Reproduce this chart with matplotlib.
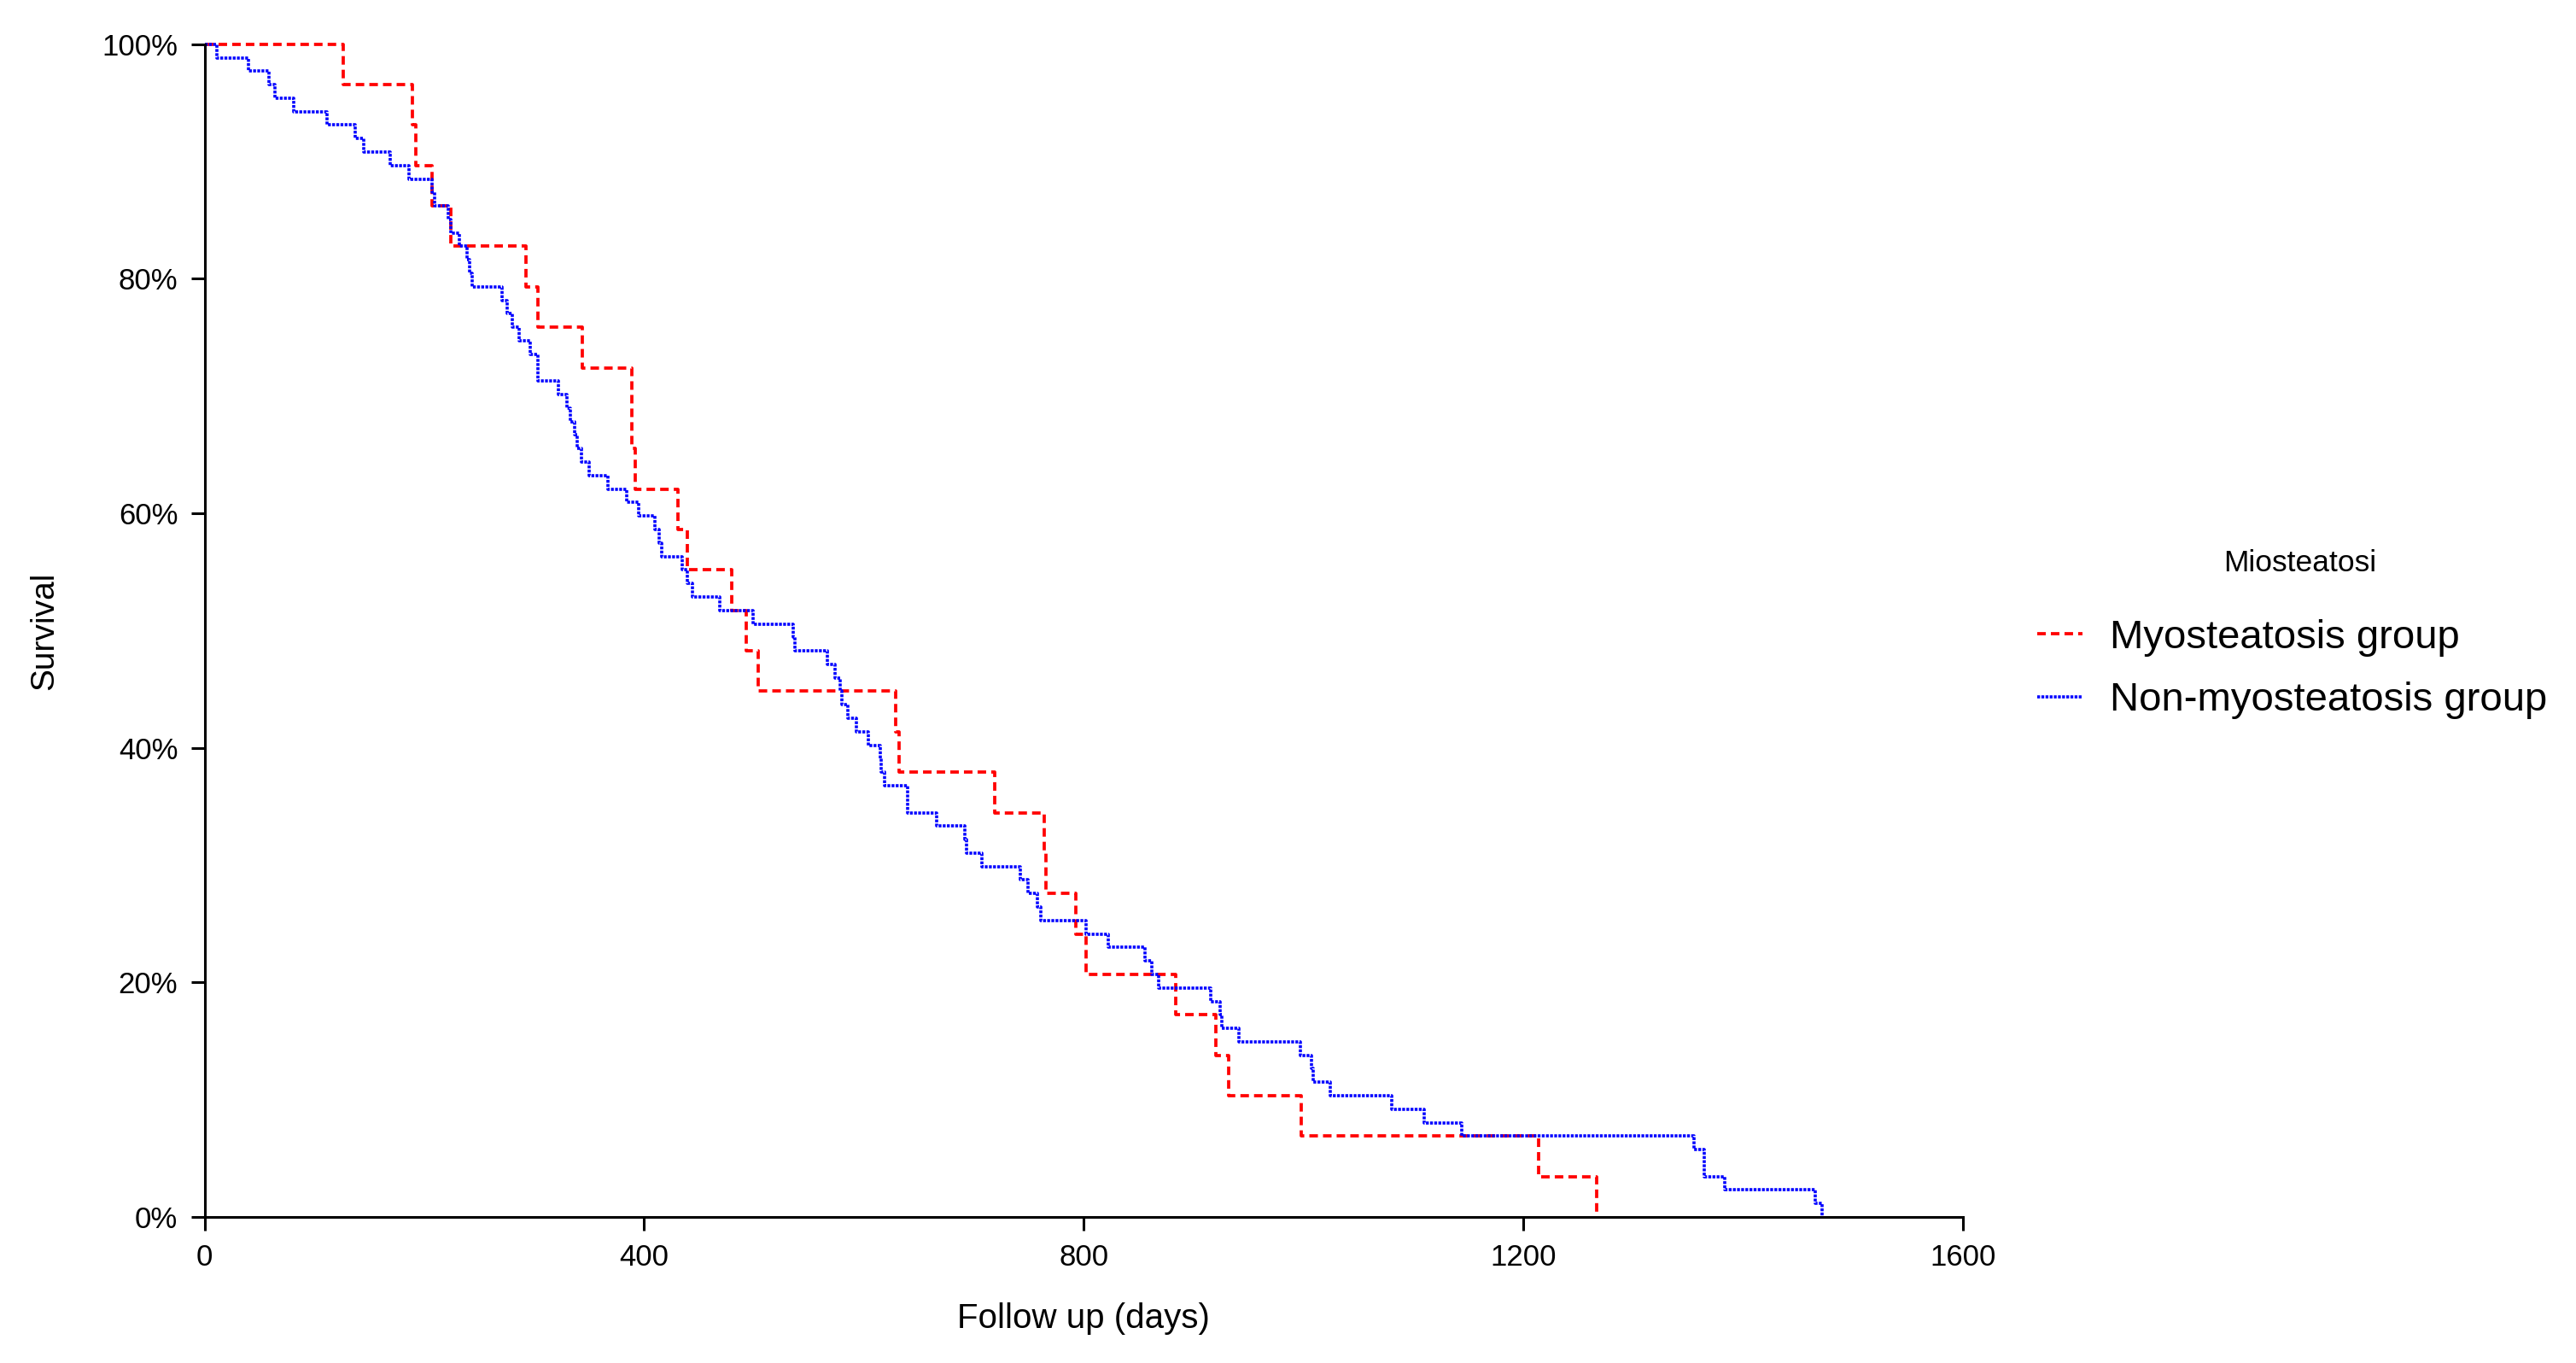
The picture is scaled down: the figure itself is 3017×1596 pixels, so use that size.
import matplotlib
matplotlib.use('Agg')
import matplotlib.pyplot as plt
from matplotlib.lines import Line2D

plt.rcParams['font.family'] = ['Liberation Sans', 'DejaVu Sans']
plt.rcParams['lines.scale_dashes'] = False

# Kaplan-Meier steps (days, survival %)
myo_days = [0, 126, 189.5, 192, 207, 224, 292.5, 303, 343.5, 389, 389, 392, 431, 439, 480, 493, 504,
            629, 632, 719, 764, 766, 793, 802, 884, 920, 932, 998, 1214, 1267]
myo_surv = [100, 96.55, 93.10, 89.66, 86.21, 82.76, 79.31, 75.86, 72.41, 68.97, 65.52, 62.07, 58.62,
            55.17, 51.72, 48.28, 44.83, 41.38, 37.93, 34.48, 31.03, 27.59, 24.14, 20.69, 17.24, 13.79,
            10.34, 6.90, 3.45, 0]

non_days = [0, 11, 40, 59, 64, 81, 111.5, 137, 145, 169,
            186, 207, 209, 222, 224, 232, 239, 241, 243.5, 271,
            275, 280, 286, 296, 303, 303, 322, 330, 333, 337,
            339, 343, 350, 367, 384, 395, 410, 414, 416, 435,
            439, 444, 469, 499, 536, 537, 567, 573.5, 578, 580,
            585, 593, 604, 615, 616, 618.5, 640, 640, 666, 692,
            693, 707, 742, 749, 758, 761, 802, 822, 856, 862,
            868, 915.5, 924, 926, 941, 997, 1007, 1009, 1024, 1080,
            1110, 1144, 1355, 1365, 1365, 1383, 1466, 1472]
non_surv = [100, 98.85, 97.70, 96.55, 95.40, 94.25, 93.10, 91.95, 90.80, 89.66,
            88.51, 87.36, 86.21, 85.06, 83.91, 82.76, 81.61, 80.46, 79.31, 78.16,
            77.01, 75.86, 74.71, 73.56, 72.41, 71.26, 70.11, 68.97, 67.82, 66.67,
            65.52, 64.37, 63.22, 62.07, 60.92, 59.77, 58.62, 57.47, 56.32, 55.17,
            54.02, 52.87, 51.72, 50.57, 49.43, 48.28, 47.13, 45.98, 44.83, 43.68,
            42.53, 41.38, 40.23, 39.08, 37.93, 36.78, 35.63, 34.48, 33.33, 32.18,
            31.03, 29.89, 28.74, 27.59, 26.44, 25.29, 24.14, 22.99, 21.84, 20.69,
            19.54, 18.39, 17.24, 16.09, 14.94, 13.79, 12.64, 11.49, 10.34, 9.20,
            8.05, 6.90, 5.75, 4.60, 3.45, 2.30, 1.15, 0]

x_ticks = [0, 400, 800, 1200, 1600]
y_ticks = [0, 20, 40, 60, 80, 100]
y_labels = ['0%', '20%', '40%', '60%', '80%', '100%']
groupes = ['Myosteatosis group', 'Non-myosteatosis group']

fig = plt.figure(figsize=(30.17, 15.96), dpi=100)
ax = fig.add_axes([0.0794, 0.1071, 0.6826, 0.8605])

red_style = dict(color='red', linewidth=2.7, dashes=(7.2, 4.3))
blue_style = dict(color='blue', linewidth=2.6, dashes=(2.4, 1.1))

ax.step(myo_days, myo_surv, where='post', clip_on=False, **red_style)
ax.step(non_days, non_surv, where='post', clip_on=False, **blue_style)

ax.set_xlim(0, 1600)
ax.set_ylim(0, 100)
ax.set_xticks(x_ticks)
ax.set_xticklabels([str(t) for t in x_ticks])
ax.set_yticks(y_ticks)
ax.set_yticklabels(y_labels)

for s in ['top', 'right']:
    ax.spines[s].set_visible(False)
for s in ['left', 'bottom']:
    ax.spines[s].set_linewidth(2.2)
ax.tick_params(axis='both', direction='out', length=11.5, width=2.2, labelsize=25, pad=11)

ax.set_xlabel('Follow up (days)', fontsize=29)
ax.xaxis.set_label_coords(0.5, -0.0728)
ax.set_ylabel('Survival', fontsize=28)
ax.yaxis.set_label_coords(-0.0823, 0.5)

# titre de la légende posé à part pour garder l'écart avec les entrées
fig.text(2694 / 3017, 1 - 660 / 1596, 'Miosteatosi', ha='center', va='center', fontsize=25.5)
handles = [Line2D([], [], **red_style), Line2D([], [], **blue_style)]
fig.legend(handles, groupes, loc='center left', bbox_to_anchor=(0.7909, 1 - 783.5 / 1596),
           frameon=False, fontsize=34, handlelength=1.12, handletextpad=0.68,
           borderpad=0, borderaxespad=0, labelspacing=0.63)

fig.savefig('out.png', dpi=100)
